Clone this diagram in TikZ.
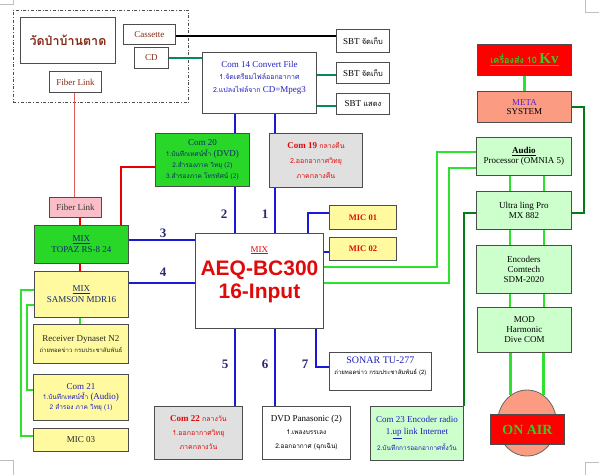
\documentclass[tikz,border=0pt]{standalone}
\usepackage{fontspec}
\setmainfont{Liberation Serif}
\newfontfamily\thf[Script=Thai]{Loma}
\newfontfamily\sbf{Liberation Sans}
\usetikzlibrary{shapes.geometric}
\definecolor{bgreen}{RGB}{40,215,40}
\definecolor{lgreen}{RGB}{204,255,204}
\definecolor{pyellow}{RGB}{255,250,160}
\definecolor{salmonf}{RGB}{250,155,130}
\definecolor{gfill}{RGB}{224,224,224}
\definecolor{pinkf}{RGB}{250,190,200}
\definecolor{lblue}{RGB}{25,25,215}
\definecolor{lgreenline}{RGB}{45,225,45}
\definecolor{dgreenline}{RGB}{0,125,20}
\definecolor{lred}{RGB}{230,0,0}
\definecolor{tealline}{RGB}{0,140,90}
\definecolor{tblue}{RGB}{30,30,190}
\definecolor{tnavy}{RGB}{20,40,110}
\definecolor{tbrown}{RGB}{130,40,20}
\definecolor{tred}{RGB}{225,10,10}
\definecolor{lblnavy}{RGB}{40,40,110}
\definecolor{tgreen}{RGB}{60,200,40}
\definecolor{tpurple}{RGB}{90,40,200}
\newcommand\fs[1]{\fontsize{#1}{#1}\selectfont}
\begin{document}
\begin{tikzpicture}[x=1pt,y=-1pt,
  box/.style={draw=black!70, line width=0.9pt, inner sep=1pt, align=center, anchor=north west, font=\fs{9}},
  bl/.style={draw=lblue, line width=1.8pt},
  gl/.style={draw=lgreenline, line width=2.8pt},
  dl/.style={draw=dgreenline, line width=2.6pt},
  rl/.style={draw=lred, line width=1.6pt},
  tl/.style={draw=tealline, line width=1.6pt},
  num/.style={font=\bfseries\fs{13}, text=lblnavy},
  crop/.style={draw=black!25, line width=0.6pt},
]
\useasboundingbox (0,0) rectangle (599,475);
% crop marks
\draw[crop] (0,4) -- (13,4) -- (13,0);
\draw[crop] (585,0) -- (585,12) -- (599,12);
\draw[crop] (0,460) -- (13,460) -- (13,475);
\draw[crop] (599,462) -- (585,462) -- (585,475);
% helper coordinates
\coordinate (y36) at (0,36);
\coordinate (y75) at (0,75);
\coordinate (y106) at (0,106);
\coordinate (y152) at (0,152);
\coordinate (y167) at (0,167);
\coordinate (y168) at (0,168);
\coordinate (y213) at (0,213);
\coordinate (y240) at (0,240);
\coordinate (y252) at (0,252);
\coordinate (y267) at (0,267);
\coordinate (y283) at (0,283);
\coordinate (y290) at (0,290);
\coordinate (y305) at (0,305);
\coordinate (y367) at (0,367);
\coordinate (y390) at (0,390);
\coordinate (y436) at (0,436);
\coordinate (x21) at (21,0);
\coordinate (x27) at (27,0);
\coordinate (x74) at (74,0);
\coordinate (x80) at (80,0);
\coordinate (x121) at (121,0);
\coordinate (x235) at (235,0);
\coordinate (x275) at (275,0);
\coordinate (x308) at (308,0);
\coordinate (x316) at (316,0);
\coordinate (x437) at (437,0);
\coordinate (x449) at (449,0);
\coordinate (x510) at (510,0);
\coordinate (x544) at (544,0);
\coordinate (x584) at (584,0);

% dashed frame
\node[draw=black!70, dash dot, line width=0.9pt, anchor=north west, minimum width=175, minimum height=92, inner sep=0pt] (frame) at (13,10) {};
\node[box, minimum width=95, minimum height=46, font=\thf\bfseries\fs{12.5}, text=tbrown] (wat) at (20,17) {วัดป่าบ้านตาด};
\node[box, minimum width=52, minimum height=21, text=tbrown] (fl1) at (49,71) {Fiber Link};
\node[box, minimum width=52, minimum height=20, text=tbrown] (cas) at (123,24) {Cassette};
\node[box, minimum width=34, minimum height=21, text=tbrown] (cd) at (134,47) {CD};

% Com 14 and SBT
\node[box, minimum width=114, minimum height=61, text=tblue] (c14) at (202,52)
  {Com 14 Convert File\\[3pt]{\thf\fs{7}1.จัดเตรียมไฟล์ออกอากาศ}\\[4pt]{\thf\fs{7}2.แปลงไฟล์จาก} CD=Mpeg3\\[4pt]{}};
\node[box, minimum width=53, minimum height=23] (sbt1) at (336,29) {SBT {\thf\fs{7.5}จัดเก็บ}};
\node[box, minimum width=53, minimum height=21] (sbt2) at (336,62) {SBT {\thf\fs{7.5}จัดเก็บ}};
\node[box, minimum width=53, minimum height=21] (sbt3) at (336,93) {SBT {\thf\fs{7.5}แสดง}};

% Com 20, Com 19
\node[box, fill=bgreen, minimum width=94, minimum height=53, text=tnavy] (c20) at (155,133)
  {Com 20\\[1.5pt]{\thf\fs{6.5}1.บันทึกเทศน์ซ้ำ} (DVD)\\[2pt]{\thf\fs{6.5}2.สำรองภาค วิทยุ} {\fs{7}(2)}\\[2pt]{\thf\fs{6.5}3.สำรองภาค โทรทัศน์} {\fs{7}(2)}};
\node[box, fill=gfill, minimum width=93, minimum height=54, text=tred] (c19) at (269,133)
  {\textbf{Com 19} {\thf\fs{7}กลางคืน}\\[6pt]{\thf\fs{7}2.ออกอากาศวิทยุ}\\[6pt]{\thf\fs{7}ภาคกลางคืน}};

% main mixer
\node[box, fill=white, minimum width=128, minimum height=95, text=tred] (mix) at (195,233)
  {{\fs{9}\underline{MIX}}\\[6pt]{\sbf\bfseries\fs{21}AEQ-BC300}\\[3pt]{\sbf\bfseries\fs{21}16-Input}\\[8pt]{}};
\node[box, fill=pyellow, minimum width=67, minimum height=24, text=tred, font=\bfseries\fs{8.5}] (mic1) at (329,205) {MIC 01};
\node[box, fill=pyellow, minimum width=67, minimum height=23, text=tred, font=\bfseries\fs{8.5}] (mic2) at (329,237) {MIC 02};

% left column
\node[box, fill=pinkf, minimum width=52, minimum height=20, text=black!80] (fl2) at (49,197) {Fiber Link};
\node[box, fill=bgreen, minimum width=94, minimum height=38, text=tnavy] (topaz) at (34,225) {\underline{MIX}\\[2pt]TOPAZ RS-8 24};
\node[box, fill=pyellow, minimum width=94, minimum height=46, text=tnavy] (samson) at (34,271) {\underline{MIX}\\[2pt]SAMSON MDR16};
\node[box, fill=pyellow, minimum width=95, minimum height=39, text=black!85] (recv) at (33,324)
  {Receiver Dynaset N2\\[2pt]{\thf\fs{6}ถ่ายทอดข่าว กรมประชาสัมพันธ์}};
\node[box, fill=pyellow, minimum width=95, minimum height=46, text=tblue] (c21) at (33,374)
  {Com 21\\[1pt]{\thf\fs{6.5}1.บันทึกเทศน์ซ้ำ} (Audio)\\[1pt]{\thf\fs{6.5}2 สำรอง ภาค วิทยุ} {\fs{7}(1)}};
\node[box, fill=pyellow, minimum width=95, minimum height=23, text=black!85] (mic3) at (33,428) {MIC 03};

% bottom row
\node[box, fill=gfill, minimum width=88, minimum height=53, text=tred] (c22) at (154,406)
  {\textbf{Com 22} {\thf\fs{7}กลางวัน}\\[5pt]{\thf\fs{7}1.ออกอากาศวิทยุ}\\[5pt]{\thf\fs{7}ภาคกลางวัน}};
\node[box, fill=white, minimum width=88, minimum height=53] (dvd) at (262,406)
  {DVD Panasonic (2)\\[4pt]{\thf\fs{6.5}1.เพลงบรรเลง}\\[5pt]{\thf\fs{6.5}2.ออกอากาศ (ฉุกเฉิน)}};
\node[box, fill=white, minimum width=102, minimum height=38] (sonar) at (329,352)
  {{\color{tblue}\fs{10}SONAR TU-277}\\[2pt]{\thf\fs{6}ถ่ายทอดข่าว กรมประชาสัมพันธ์ (2)}\\[2pt]{}};
\node[box, fill=lgreen, minimum width=93, minimum height=54, text=tblue] (c23) at (370,406)
  {Com 23 Encoder radio\\[3pt]1.\underline{up} link Internet\\[4pt]{\thf\fs{6.5}2.บันทึกการออกอากาศทั้งวัน}};

% right column
\node[box, fill=red, minimum width=94, minimum height=31, text=tgreen, font=\bfseries] (tx) at (477,44)
  {\underline{{\thf\fs{9}เครื่องส่ง 10} {\fs{15}Kv}}};
\node[box, fill=salmonf, minimum width=94, minimum height=31] (meta) at (477,91)
  {{\color{tpurple}META}\\SYSTEM};
\node[box, fill=lgreen, minimum width=95, minimum height=38] (aud) at (476,137)
  {\textbf{\underline{Audio}}\\[1pt]Processor (OMNIA 5)};
\node[box, fill=lgreen, minimum width=95, minimum height=38] (ult) at (476,191)
  {Ultra ling Pro\\[1pt]MX 882};
\node[box, fill=lgreen, minimum width=95, minimum height=48] (enc) at (476,245)
  {Encoders\\[1pt]Comtech\\[1pt]SDM-2020};
\node[box, fill=lgreen, minimum width=94, minimum height=45] (mod) at (477,307)
  {MOD\\[1pt]Harmonic\\[1pt]Dive COM};
\node[draw=black!60, line width=0.8pt, fill=salmonf, ellipse, minimum width=59, minimum height=66, inner sep=0pt] (ell) at (527,423) {};
\node[box, fill=red, minimum width=74, minimum height=30, text=tgreen, font=\bfseries\fs{14}] (onair) at (490,414) {ON AIR};

% number labels
\node[num] (n1) at (265,214) {1};
\node[num] (n2) at (224,214) {2};
\node[num] (n3) at (163,233) {3};
\node[num] (n4) at (163,272) {4};
\node[num] (n5) at (225,364) {5};
\node[num] (n6) at (265,364) {6};
\node[num] (n7) at (305,364) {7};

% connectors top
\draw[black, line width=1.8pt] (cas.east |- y36) -- (sbt1.west |- y36);
\draw[tl] (cd.east) -- (cd.east -| c14.west);
\draw[tl] (c14.east |- y75) -- (sbt2.west |- y75);
\draw[tl] (c14.east |- y106) -- (sbt3.west |- y106);

% blue
\draw[bl] (c14.south -| x235) -- (c20.north -| x235);
\draw[bl] (c20.south -| x235) -- (mix.north -| x235);
\draw[bl] (mix.south -| x235) -- (c22.north -| x235);
\draw[bl] (c14.south -| x275) -- (c19.north -| x275);
\draw[bl] (c19.south -| x275) -- (mix.north -| x275);
\draw[bl] (mix.south -| x275) -- (dvd.north -| x275);
\draw[bl] (mix.north -| x308) |- (mic1.west |- y213);
\draw[bl] (mix.east |- y252) -- (mic2.west |- y252);
\draw[bl] (mix.south -| x316) |- (sonar.west |- y367);
\draw[bl] (topaz.east |- y240) -- (mix.west |- y240);
\draw[bl] (samson.east |- y283) -- (mix.west |- y283);

% bright green
\draw[gl] (mix.east |- y267) -| (x437 |- y152) -- (aud.west |- y152);
\draw[gl] (mix.east |- y283) -| (x449 |- y168) -- (aud.west |- y168);
\draw[gl] (aud.south -| x510) -- (ult.north -| x510);
\draw[gl] (aud.south -| x544) -- (ult.north -| x544);
\draw[gl] (ult.south -| x510) -- (enc.north -| x510);
\draw[gl] (ult.south -| x544) -- (enc.north -| x544);
\draw[gl] (enc.south -| x510) -- (mod.north -| x510);
\draw[gl] (enc.south -| x544) -- (mod.north -| x544);
\draw[gl] (mod.south -| ell.120) -- (ell.120);
\draw[gl] (mod.south -| ell.60) -- (ell.60);
\draw[gl] (tx.south) -- (meta.north);

% dark green
\draw[dl] (meta.east) -| (x584 |- y213) -- (ult.east |- y213);
\draw[dl] (ult.west |- y213) -| (c23.north east);

% left green
\draw[gl] (samson.west |- y290) -| (x21 |- y436) -- (mic3.west |- y436);
\draw[gl] (samson.west |- y305) -| (x27 |- y390) -- (c21.west |- y390);
\draw[gl, line width=1.5pt] (samson.south -| x80) -- (recv.north -| x80);

% red
\draw[rl] (c20.west |- y167) -| (topaz.north -| x121);
\draw[draw={rgb,255:red,225;green,90;blue,90}, line width=1pt] (fl1.south -| x74) -- (fl2.north -| x74);
\draw[rl] (fl2.south -| x80) -- (topaz.north -| x80);
\draw[rl] (topaz.south -| x80) -- (samson.north -| x80);
\end{tikzpicture}
\end{document}
